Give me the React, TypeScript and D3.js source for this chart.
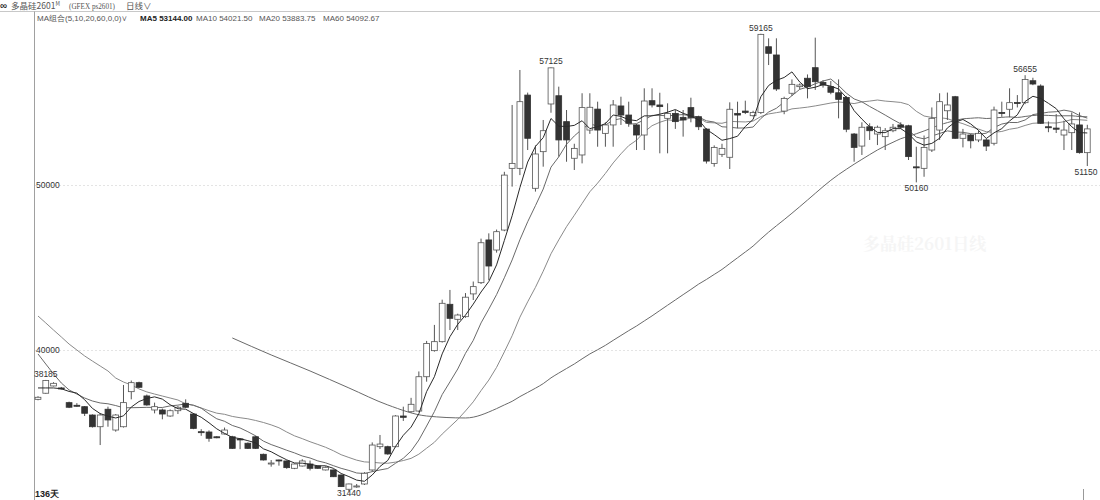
import React, { useMemo } from "react";
import * as d3 from "d3";

// ---- Candle data (day index 0..135) ----
const opens = [
  37010, 37380, 37820, 37700, 36810, 36650, 36565, 36060, 35350, 36410,
  35150, 35350, 37475, 38020, 37215, 36365, 36365, 36000, 36320, 36770,
  36120, 35050, 35030, 34740, 34910, 34740, 34610, 34350, 34740, 33680,
  33130, 33335, 33275, 32830, 32970, 33090, 32970, 32730, 32730, 32425,
  31560, 31740, 31880, 32730, 34140, 34140, 34140, 36000, 36260, 36300,
  38380, 39960, 40505, 42770, 41860, 42020, 43400, 44080, 46670, 46060,
  47270, 51010, 51010, 55450, 49800, 52020, 54910, 55410, 53840, 51620,
  51820, 53330, 54600, 53130, 53640, 54790, 54240, 53640, 53030, 55110,
  54850, 54040, 54340, 54100, 54690, 54140, 53390, 51310, 51860, 51680,
  54340, 54480, 54200, 54400, 58380, 57880, 54480, 55560, 55960, 56470,
  57110, 56220, 55960, 55590, 55310, 53090, 52360, 53530, 53090, 52930,
  53290, 53640, 53590, 51100, 51010, 52120, 53330, 54500, 55350, 52830,
  53030, 52730, 52730, 52530, 54400, 54590, 55000, 54990, 56320, 56000,
  53530, 53450, 53030, 53170, 53640, 51960,
];
const highs = [
  37200, 38185, 38050, 37760, 36870, 36780, 36600, 36100, 36180, 36565,
  36120, 37880, 38150, 38080, 37300, 36810, 36450, 36400, 36600, 37010,
  36180, 35200, 35130, 34780, 35300, 34800, 34650, 34400, 34800, 33720,
  33330, 33360, 33300, 33120, 33380, 33300, 33000, 32950, 32760, 32450,
  31900, 31880, 32600, 34400, 34850, 34200, 36050, 36565, 37100, 38700,
  40550, 41520, 43050, 43640, 42200, 43450, 44150, 46750, 47070, 47300,
  50800, 54850, 56970, 55600, 52400, 53940, 57125, 55960, 54545, 52500,
  55560, 55560, 55050, 53800, 55150, 55350, 55050, 53700, 55860, 55860,
  55590, 54950, 54545, 54545, 55290, 54200, 53450, 52400, 52500, 55010,
  55050, 55110, 54500, 59165, 58890, 58890, 55350, 56400, 56150, 56700,
  58930, 56350, 56300, 56400, 55400, 53150, 53800, 53740, 53600, 53450,
  53700, 53800, 53650, 52320, 53000, 54700, 55560, 55600, 55400, 53400,
  53100, 53300, 52800, 54750, 55050, 55860, 55450, 56655, 56500, 56100,
  53850, 54300, 53900, 54400, 54400, 53650,
];
const lows = [
  36950, 37350, 37790, 37600, 36480, 36560, 36000, 35300, 34240, 35350,
  35050, 35300, 37010, 37700, 36620, 36160, 35800, 35950, 36120, 36480,
  35200, 34800, 34440, 34650, 34880, 34000, 33990, 34000, 34000, 33300,
  32930, 32990, 32800, 32780, 32940, 32700, 32800, 32700, 32300, 31700,
  31440, 31650, 31820, 32630, 34000, 33650, 34100, 35700, 36200, 36250,
  38080, 39900, 40450, 41210, 41210, 41950, 43030, 44000, 44240, 45900,
  47200, 49900, 50600, 52120, 49600, 51110, 54380, 51720, 51410, 50910,
  51310, 53100, 52320, 52320, 52320, 53640, 53530, 52120, 52120, 54700,
  51920, 51920, 53400, 52930, 53800, 53330, 51300, 51110, 51700, 50970,
  53440, 54300, 54150, 54300, 57270, 55700, 54290, 55400, 55800, 55250,
  55760, 55900, 55500, 54040, 53200, 51410, 51820, 52730, 52420, 52120,
  53200, 53400, 51515, 50160, 50500, 52000, 52730, 53940, 52800, 52280,
  52220, 52600, 52060, 52400, 54130, 54100, 54700, 54900, 56050, 53700,
  53200, 53150, 52120, 52120, 51900, 51150,
];
const closes = [
  37135, 38150, 37980, 37650, 36530, 36620, 36165, 35350, 36060, 35760,
  36060, 36810, 38020, 37740, 36670, 36565, 36120, 36320, 36530, 36530,
  35250, 34990, 34650, 34690, 35150, 34040, 34600, 34040, 34040, 33335,
  33150, 33320, 32870, 33090, 33275, 32830, 32830, 32890, 32320, 31720,
  31880, 31760, 32530, 34240, 34300, 33700, 36000, 35920, 36710, 38380,
  40400, 40505, 42830, 41920, 42120, 43200, 43840, 46500, 45090, 47170,
  50600, 51310, 55050, 52830, 51880, 53290, 57100, 52730, 52730, 52220,
  54690, 54710, 53330, 53640, 54850, 54240, 53740, 53030, 55090, 54850,
  54750, 54340, 53840, 53940, 54080, 53530, 51450, 52280, 52220, 54590,
  54240, 54400, 54400, 59130, 57980, 55820, 55250, 56100, 56060, 55960,
  56260, 56060, 55620, 55190, 53380, 52280, 53500, 53290, 53500, 53290,
  53500, 53500, 51720, 51070, 52280, 54040, 55050, 54850, 52830, 53090,
  52680, 53130, 52360, 54545, 54380, 54990, 54990, 56400, 56120, 53740,
  53500, 53380, 53330, 53700, 51960, 53400,
];

// Moving-average values before enough visible days exist
const ma5Lead = [37700, 37700, 37700, 37650];
const ma10Lead = [39760, 39150, 38550, 38000, 37580, 37330, 37090, 36910, 36790];
const ma20Lead = [
  42060, 41640, 41210, 40790, 40360, 40000, 39640, 39330, 39030, 38730,
  38300, 38060, 37880, 37640, 37460, 37330, 37210, 37090, 36970,
];
const ma60LeadDays = [25, 30, 35, 40, 45, 50, 55];
const ma60LeadValues = [40730, 39700, 38730, 37700, 36670, 36000, 35880];

// Marked extremes
const markHighDays = [1, 66, 93, 127];
const markLowDays = [40, 113, 135];

const yTicks = [40000, 50000];

const headerTitle = "多晶硅2601";
const headerCode = "(GFEX  ps2601)";
const headerPeriod = "日线∨";
const maGroup = "MA组合(5,10,20,60,0,0)∨";
const maLegend = [
  { name: "MA5", value: "53144.00" },
  { name: "MA10", value: "54021.50" },
  { name: "MA20", value: "53883.75" },
  { name: "MA60", value: "54092.67" },
];
const dayCountLabel = "136天";
const watermark = "多晶硅2601日线";

const W = 1100;
const H = 500;

function movingAvg(period: number, lead: number[]): [number, number][] {
  const pts: [number, number][] = [];
  for (let i = 0; i < closes.length; i++) {
    if (i < period - 1) {
      if (i < lead.length) pts.push([i, lead[i]]);
    } else {
      const s = d3.sum(closes.slice(i - period + 1, i + 1));
      pts.push([i, s / period]);
    }
  }
  return pts;
}

export default function App() {
  const n = closes.length;
  const x = d3.scaleLinear().domain([0, n - 1]).range([38, 1087.3]);
  const y = d3.scaleLinear().domain([40000, 50000]).range([350, 185]);
  const bodyW = 5.8;

  const ma = useMemo(() => {
    const m5 = movingAvg(5, ma5Lead);
    const m10 = movingAvg(10, ma10Lead);
    const m20 = movingAvg(20, ma20Lead);
    const m60: [number, number][] = ma60LeadDays.map((d, k) => [d, ma60LeadValues[k]]);
    for (let i = 59; i < n; i++) {
      m60.push([i, d3.sum(closes.slice(i - 59, i + 1)) / 60]);
    }
    return { m5, m10, m20, m60 };
  }, [n]);

  const lineLin = d3
    .line<[number, number]>()
    .x((d) => x(d[0]))
    .y((d) => y(d[1]));
  const lineSmooth = d3
    .line<[number, number]>()
    .x((d) => x(d[0]))
    .y((d) => y(d[1]))
    .curve(d3.curveMonotoneX);

  const sans = "'Liberation Sans', Arial, sans-serif";

  const legendX = [140, 196, 259, 323];

  return (
    <svg
      width={W}
      height={H}
      style={{ position: "absolute", left: 0, top: 0, background: "#fff" }}
      fontFamily={sans}
    >
      <rect x={0} y={0} width={W} height={H} fill="#fff" />

      {/* watermark */}
      <text
        x={863}
        y={250}
        fontSize={17}
        fill="#f5f5f5"
        fontWeight="bold"
        fontFamily="'Noto Serif CJK SC', 'Noto Sans CJK SC', serif"
      >
        {watermark}
      </text>

      {/* header */}
      <text x={0} y={8.5} fontSize={10} fontWeight="bold" fill="#333">
        ∞
      </text>
      <text x={11} y={8.5} fontSize={8.5} fill="#555" fontFamily="'Noto Sans CJK SC', serif">
        {headerTitle}
        <tspan fontSize={5.5} dy={-3}>
          M
        </tspan>
      </text>
      <text
        x={69}
        y={8.5}
        fontSize={7.5}
        fill="#555"
        fontFamily="'Liberation Serif', serif"
        textLength={46}
        lengthAdjust="spacingAndGlyphs"
      >
        {headerCode}
      </text>
      <text x={126} y={8.5} fontSize={8.5} fill="#555" fontFamily="'Noto Sans CJK SC', serif">
        {headerPeriod}
      </text>
      <line x1={0} x2={W} y1={11.5} y2={11.5} stroke="#c8c8c8" strokeWidth={1} />
      <line x1={34.5} x2={34.5} y1={11.5} y2={H} stroke="#a0a0a0" strokeWidth={1} />

      <text x={37} y={20.5} fontSize={8} fill="#555">
        {maGroup}
      </text>
      {maLegend.map((m, k) => (
        <text
          key={m.name}
          x={legendX[k]}
          y={20.5}
          fontSize={8}
          fill={k === 0 ? "#222" : "#555"}
          fontWeight={k === 0 ? "bold" : "normal"}
        >
          {m.name} {m.value}
        </text>
      ))}

      {/* grid lines and y labels */}
      {yTicks.map((t) => (
        <g key={t}>
          <line
            x1={35}
            x2={W}
            y1={y(t) + 0.5}
            y2={y(t) + 0.5}
            stroke="#e4e4e4"
            strokeDasharray="2,2"
          />
          <text x={36} y={y(t) + 3} fontSize={8.5} fill="#333">
            {t}
          </text>
        </g>
      ))}

      {/* MA lines */}
      <path d={lineSmooth(ma.m60) || ""} fill="none" stroke="#6a6a6a" strokeWidth={1} />
      <path d={lineLin(ma.m20) || ""} fill="none" stroke="#8a8a8a" strokeWidth={1} />
      <path d={lineLin(ma.m10) || ""} fill="none" stroke="#6a6a6a" strokeWidth={1} />

      {/* candles */}
      {closes.map((c, i) => {
        const o = opens[i];
        const up = c >= o;
        const cx = x(i);
        const top = y(Math.max(o, c));
        const bot = y(Math.min(o, c));
        const h = Math.max(1, bot - top);
        return (
          <g key={i}>
            <line
              x1={cx}
              x2={cx}
              y1={y(highs[i])}
              y2={y(lows[i])}
              stroke="#555"
              strokeWidth={1}
            />
            <rect
              x={cx - bodyW / 2}
              y={top}
              width={bodyW}
              height={h}
              fill={up ? "#fff" : "#333"}
              stroke={up ? "#555" : "#333"}
              strokeWidth={0.8}
            />
          </g>
        );
      })}

      <path d={lineLin(ma.m5) || ""} fill="none" stroke="#2a2a2a" strokeWidth={1} />

      {/* extreme labels */}
      {markHighDays.map((d) => (
        <text
          key={"h" + d}
          x={x(d)}
          y={y(highs[d]) - 3}
          fontSize={8.5}
          fill="#333"
          textAnchor="middle"
        >
          {highs[d]}
        </text>
      ))}
      {markLowDays.map((d) => (
        <text
          key={"l" + d}
          x={Math.min(x(d), 1086)}
          y={Math.min(y(lows[d]) + 9, 496)}
          fontSize={8.5}
          fill="#333"
          textAnchor="middle"
        >
          {lows[d]}
        </text>
      ))}

      <text x={35} y={497} fontSize={9} fontWeight="bold" fill="#222">
        {dayCountLabel}
      </text>
      <line x1={1083.5} x2={1083.5} y1={489} y2={H} stroke="#999" strokeWidth={1} />
    </svg>
  );
}
